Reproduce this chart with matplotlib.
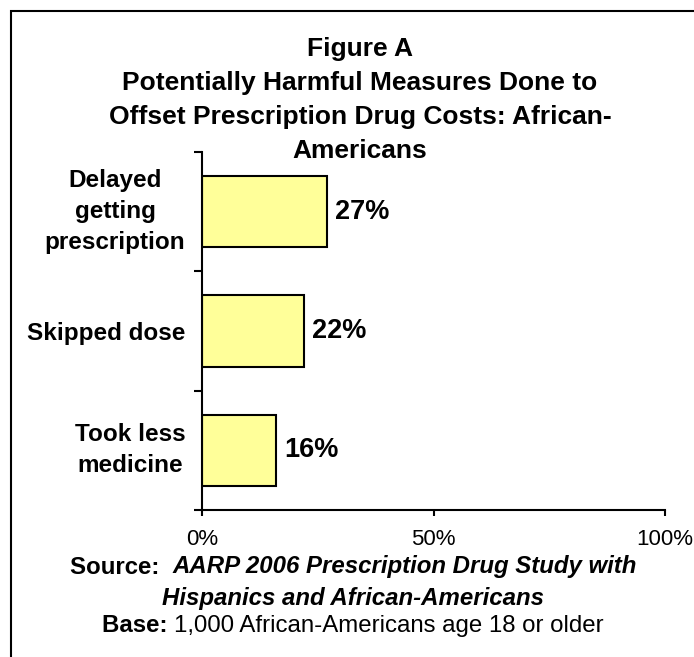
import matplotlib.pyplot as plt
from matplotlib.patches import Rectangle

categories = ['Delayed\ngetting\nprescription', 'Skipped dose', 'Took less\nmedicine']
shares = [27, 22, 16]
x_ticks = [0, 50, 100]
x_labels = ['0%', '50%', '100%']
title_lines = ['Figure A',
               'Potentially Harmful Measures Done to',
               'Offset Prescription Drug Costs: African-',
               'Americans']

plt.rcParams['font.family'] = 'Liberation Sans'

W, H = 694, 657
fig = plt.figure(figsize=(W / 100, H / 100), dpi=100)

# outer frame, runs off the right and bottom edges
fig.patches.append(Rectangle((11 / W, -0.1), 1.2, 1.1 - 11 / H, transform=fig.transFigure,
                             fill=False, edgecolor='black', lw=1.5))

ax = fig.add_axes([202 / W, 1 - 510 / H, (665 - 202) / W, (510 - 152) / H])
ypos = list(range(len(categories)))
ax.barh(ypos, shares, height=0.6, color='#ffff99', edgecolor='black', lw=1.5)
ax.set_xlim(0, 100)
ax.set_ylim(len(categories) - 0.5, -0.5)

for y, v in zip(ypos, shares):
    ax.text(v + 1.8, y, f'{v}%', va='center', ha='left', fontsize=19.5, fontweight='bold')

ax.set_yticks(ypos)
ax.set_yticklabels(categories, fontsize=17.5, fontweight='bold', multialignment='center',
                   linespacing=1.45)
for lab in ax.get_yticklabels():
    if '\n' in lab.get_text():
        lab.set_va('center')
ax.set_yticks([y - 0.5 for y in range(len(categories) + 1)], minor=True)
ax.tick_params(axis='y', which='major', length=0, pad=12)
ax.tick_params(axis='y', which='minor', direction='out', length=6, width=1.5)

ax.set_xticks(x_ticks)
ax.set_xticklabels(x_labels, fontsize=16)
ax.tick_params(axis='x', direction='out', length=4, width=1.5, pad=10)

for side in ['top', 'right']:
    ax.spines[side].set_visible(False)
for side in ['left', 'bottom']:
    ax.spines[side].set_linewidth(1.5)

for i, line in enumerate(title_lines):
    fig.text(360 / W, 1 - (49 + 34 * i) / H, line, ha='center', va='center',
             fontsize=19, fontweight='bold')

# source lines: bold lead-in followed by italic title
renderer = fig.canvas.get_renderer()


def mixed_line(parts, yc, xc=353):
    texts = [fig.text(0, 1 - yc / H, s, va='center', fontsize=fs, fontweight=fw, fontstyle=st)
             for s, fs, fw, st in parts]
    widths = [t.get_window_extent(renderer).width for t in texts]
    x = xc - sum(widths) / 2
    for t, w in zip(texts, widths):
        t.set_x(x / W)
        x += w


mixed_line([('Source:  ', 17.3, 'bold', 'normal'),
            ('AARP 2006 Prescription Drug Study with', 17.3, 'bold', 'italic')], 567)
mixed_line([('Hispanics and African-Americans', 17.3, 'bold', 'italic')], 598)
mixed_line([('Base: ', 17.3, 'bold', 'normal'),
            ('1,000 African-Americans age 18 or older', 17.3, 'normal', 'normal')], 626)

fig.savefig('out.png', dpi=100)
